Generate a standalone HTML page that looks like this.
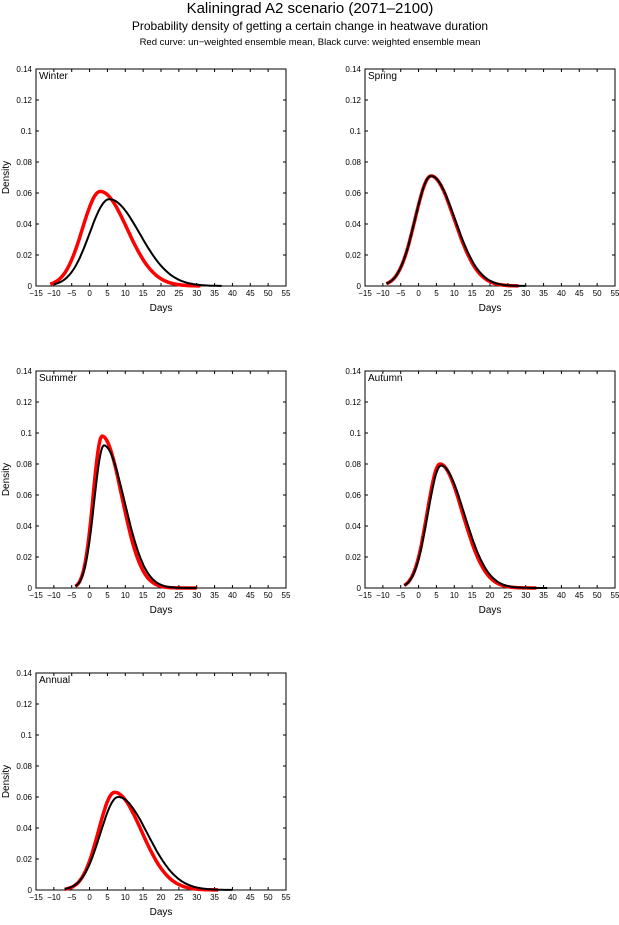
<!DOCTYPE html>
<html><head><meta charset="utf-8"><style>
body{margin:0;background:#fff;width:619px;height:920px;overflow:hidden}
svg{font-family:"Liberation Sans",sans-serif}
</style></head><body>
<svg id="s" width="619" height="920" xmlns="http://www.w3.org/2000/svg">
<text x="310" y="13" font-size="15" text-anchor="middle">Kaliningrad A2 scenario (2071–2100)</text>
<text x="310" y="30" font-size="12" text-anchor="middle">Probability density of getting a certain change in heatwave duration</text>
<text x="310" y="45" font-size="9.5" text-anchor="middle">Red curve: un−weighted ensemble mean, Black curve: weighted ensemble mean</text>
</svg>
<script>
const s=document.getElementById('s');let h='';
const panels=[
 {x:36,y:69,name:'Winter',d:1,c:[[3,0.061,5,7.5,-11,31,'red',3.5],[5.5,0.056,5.5,8.5,-10,37,'#000',2]]},
 {x:365,y:69,name:'Spring',d:0,c:[[3.5,0.071,4.5,6.5,-9,28,'red',3.5],[3.5,0.071,4.5,6.7,-9,30,'#000',2]]},
 {x:36,y:371,name:'Summer',d:1,c:[[3.5,0.098,2.5,5.5,-4,30,'red',3.5],[4,0.092,2.7,5.8,-4,30,'#000',2]]},
 {x:365,y:371,name:'Autumn',d:0,c:[[6,0.08,3.6,6.3,-4,33,'red',3.5],[6.3,0.079,3.7,6.5,-4,36,'#000',2]]},
 {x:36,y:673,name:'Annual',d:1,c:[[7,0.063,4.5,7.5,-7,36,'red',3.5],[8,0.06,5,8.2,-7,40,'#000',2]]}];
const W=250,H=217;
for(const p of panels){
 const X=v=>p.x+(v+15)/70*W, Y=v=>p.y+H-v/0.14*H;
 h+=`<rect x="${p.x}" y="${p.y}" width="${W}" height="${H}" fill="none" stroke="#000" stroke-width="1"/>`;
 for(let v=-15;v<=55;v+=5){const x=X(v);h+=`<line x1="${x}" y1="${p.y+H}" x2="${x}" y2="${p.y+H-3}" stroke="#000"/><line x1="${x}" y1="${p.y}" x2="${x}" y2="${p.y+3}" stroke="#000"/><text x="${x}" y="${p.y+H+10}" font-size="8" text-anchor="middle">${v<0?'−'+(-v):v}</text>`;}
 for(let i=0;i<=7;i++){const v=i*0.02,y=Y(v);h+=`<line x1="${p.x}" y1="${y}" x2="${p.x+3}" y2="${y}" stroke="#000"/><line x1="${p.x+W}" y1="${y}" x2="${p.x+W-3}" y2="${y}" stroke="#000"/><text x="${p.x-4}" y="${y+3}" font-size="8" text-anchor="end">${i==0?'0':+v.toFixed(2)}</text>`;}
 h+=`<text x="${p.x+W/2}" y="${p.y+H+25}" font-size="10" text-anchor="middle">Days</text>`;
 if(p.d)h+=`<text transform="translate(${p.x-27},${p.y+H/2}) rotate(-90)" font-size="10" text-anchor="middle">Density</text>`;
 h+=`<text x="${p.x+3}" y="${p.y+10}" font-size="10">${p.name}</text>`;
 for(const [m,pk,sl,sr,a,b,col,w] of p.c){let d='';
  for(let v=a;v<=b;v+=0.25){const sg=v<m?sl:sr;const f=pk*Math.exp(-0.5*((v-m)/sg)**2);d+=(d?'L':'M')+X(v).toFixed(1)+','+Y(f).toFixed(1);}
  h+=`<path d="${d}" fill="none" stroke="${col}" stroke-width="${w}"/>`;}
}
s.innerHTML+=h;
</script>
</body></html>
